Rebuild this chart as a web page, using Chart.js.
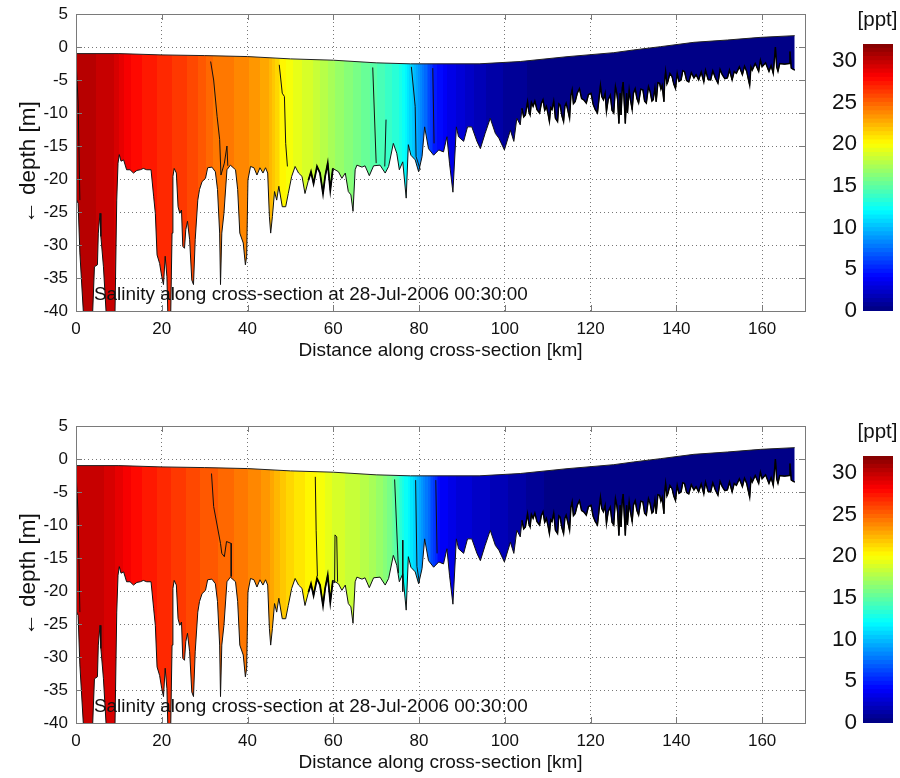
<!DOCTYPE html>
<html>
<head>
<meta charset="utf-8">
<style>
html,body{margin:0;padding:0;background:#fff;overflow:hidden}
canvas{position:absolute;display:block}
</style>
<script src="https://cdn.jsdelivr.net/npm/chart.js@4/dist/chart.umd.min.js"></script>
</head>
<body>
<canvas id="top" width="810" height="380" style="left:0;top:0;width:810px;height:380px"></canvas>
<canvas id="bottom" width="810" height="366" style="left:0;top:412px;width:810px;height:366px"></canvas>
<canvas id="barTop" width="100" height="330" style="left:800px;top:0;width:100px;height:330px"></canvas>
<canvas id="barBottom" width="100" height="330" style="left:800px;top:412px;width:100px;height:330px"></canvas>
<script>
const surfaceKm=[0,10,20,30,40,50,60,70,78,94,103.6,114.5,125.4,130,136.3,144.1,151.9,159.6,167.6];
const surfaceDepth=[-1,-1,-1.2,-1.3,-1.45,-1.8,-2,-2.4,-2.55,-2.55,-2.2,-1.47,-0.86,-0.45,0.05,0.71,1.06,1.46,1.72];
const bedKm=[0,0.5,0.9,1.7,2.5,3.5,3.9,4.3,5,5.2,5.6,5.8,6.4,7,7.5,8.5,9.1,9.5,9.8,10.1,10.5,11.1,11.8,12.6,13.4,14.2,15,15.7,16.5,17.5,18.1,18.5,18.9,19.5,20,20.4,20.8,21.2,21.4,21.6,22,22.1,22.4,22.6,22.9,23.4,23.8,24.2,24.6,24.9,25.3,25.6,26,26.5,27,27.4,27.8,28.4,28.8,29.4,30.2,30.7,31.7,32.5,33,33.5,33.7,34,34.5,35.2,36,37.2,37.7,38.2,39,39.5,39.8,40.1,40.7,41.5,42.2,42.9,43.6,44.2,44.7,45.1,45.4,45.8,46.3,46.8,47.3,48.1,48.9,49.5,50.3,51.1,51.9,52.7,53.4,54.2,54.8,55.4,56.2,56.9,57.6,58.1,58.7,59.3,59.9,61.2,62,62.8,63.5,64.1,64.6,65.1,65.5,66.7,67.4,68.4,69.4,70.9,72.1,72.9,74,74.8,75.4,76.2,77,77.5,78.1,79.1,79.9,80.7,81.3,82.2,83.4,84.6,85.7,86.5,87.1,87.9,88.7,89.2,90.4,91.3,92.3,93.5,94.3,95.4,96.6,97.8,98.6,99.9,101.3,102.1,102.8,103.6,
104,104.4,104.8,105.3,105.6,105.9,106.2,106.6,107,107.5,108.1,108.5,108.9,109.3,109.7,110.1,110.4,110.7,111,111.4,111.8,112.3,112.6,112.9,113.3,113.7,114,114.3,114.7,115.1,115.4,115.7,116,116.4,116.9,117.4,117.9,118.4,119,119.5,120.1,120.6,121.1,121.6,122,122.3,122.6,123,123.4,123.7,124.1,124.6,125,125.4,125.8,126.1,126.3,126.6,126.9,127.1,127.4,127.6,127.9,128.1,128.4,128.6,129,129.3,129.7,130,130.4,130.8,131.2,131.7,132.2,132.6,133,133.5,133.9,134.3,134.6,135,135.3,135.7,136.1,136.4,136.7,137.1,137.3,137.5,137.8,138,138.5,139,139.4,139.8,140.2,140.6,141.1,141.5,141.9,142.4,142.9,143.5,144.1,144.6,145.2,145.8,146.4,146.8,147.4,148,148.5,149.1,149.7,150.2,150.7,151.3,151.9,152.4,153,153.5,154,154.7,155.4,155.9,156.4,157.1,157.4,157.7,158.4,159.2,159.6,160,160.8,161.6,162.1,162.6,163.1,163.4,163.7,164.1,165.2,166.3,166.5,166.8,167.6];
const bedDepth=[-23,-23.7,-31.2,-40,-43,-43,-40,-33.3,-33,-28.2,-25.2,-28.7,-33.3,-40,-43,-43,-40,-23.2,-17.6,-16.3,-17.3,-17.1,-18.6,-18.6,-19.1,-18.7,-18.6,-18.4,-18.6,-18.6,-22.6,-25.2,-31.5,-32.8,-34.8,-36,-31.7,-34.8,-40,-43,-43,-40,-28.2,-19.6,-18.4,-19.1,-24.2,-25.2,-24.7,-30.2,-30.5,-27.7,-26.4,-29.2,-35.3,-36,-29.2,-23.2,-21.6,-20.4,-19.9,-18.3,-18.2,-18.9,-21.6,-28.2,-36,-28.2,-25.2,-18.6,-17.9,-18.6,-21.6,-28.2,-29.7,-33,-31.7,-20.1,-18.1,-18.3,-19.4,-18.3,-19.1,-18.3,-19.1,-25.7,-28.2,-25.7,-21.9,-23.2,-21.1,-24.2,-24.2,-22.2,-19.6,-18.1,-19.1,-19.6,-22.2,-20.2,-18.9,-20.7,-18.1,-19.1,-22.2,-19.6,-17.6,-21.7,-18.4,-18.9,-19.9,-19.1,-21.9,-22.4,-24.9,-18.6,-17.9,-18.2,-18,-19.5,-18,-17.9,-19.1,-18.1,-14.6,-16.1,-18.6,-17.4,-22.9,-14.8,-16.4,-17.1,-18.9,-16.6,-12.1,-15.4,-16.4,-15.6,-15.9,-13.6,-17.6,-22,-12.1,-13.6,-14.3,-12.1,-12.1,-14.3,-15.4,-13.1,-10.8,-13.1,-13.8,-15.6,-12.6,-14.3,-10.8,-11.8,
-9.3,-10.6,-10.3,-8.3,-9.8,-10.3,-8.4,-9,-8.2,-9.5,-10,-8.6,-8,-9.6,-9,-10.2,-11.3,-9.2,-9.5,-8.2,-10.8,-11.3,-8.6,-8.8,-10.4,-11.3,-9,-8.5,-9.6,-10.8,-7.4,-6.5,-8.6,-8.3,-7,-6.3,-7.8,-8,-8.5,-7.2,-7,-8.7,-9.5,-10,-7.6,-5.8,-7.5,-8,-7,-9.8,-8,-7.3,-9.6,-10,-6,-7,-8,-11.6,-7,-10.3,-6.2,-5.3,-9,-11.6,-7,-10,-6.5,-8,-9.5,-7,-6.3,-7.8,-8.5,-6.4,-6.5,-8.2,-8.5,-6,-6.8,-8.2,-8,-6.2,-8.3,-5.4,-5.5,-6.4,-5.8,-8.3,-5,-3.7,-5.6,-5.3,-4,-4.5,-5.6,-6.3,-4,-5.2,-5,-3.6,-3.7,-5.1,-5.3,-3.9,-4.7,-4.2,-5,-3.8,-5.3,-3.5,-4.9,-5,-3.6,-4.7,-5.5,-3.4,-4.2,-4.8,-4.7,-3.5,-5,-3.7,-4,-3,-4.2,-2.9,-3.7,-5.8,-3,-3.5,-2.5,-3.7,-2,-3,-2.4,-3.7,-2.8,-4,0,-3,-3.7,-2.5,-2.6,-2.5,-0.7,-3.2,-3.5];
const salinityKm=[0,3,8,10,12,13.4,21.2,27.4,32,36.8,41.5,44.6,46.9,47.6,51.5,55,59,67,74.9,76.8,78.7,81,83.4,86.5,94.3,102,107,168];
const salinityTop=[30.2,30.1,29.8,29,28.2,27.8,26.7,25.8,24.5,24,23.3,22.7,21.3,20.5,19.2,18.6,17.4,15.4,13.2,12,10,7.8,4.9,3.5,1.65,0.7,0.4,0.2];
const salinityKmBottom=[0,5,8,10,13.4,21,29,36.8,44.6,47.6,50.8,56.2,60,67,71,74,76.4,77.5,80.3,82.6,85,88.8,100,110,168];
const salinityBottom=[30,29.8,29.2,28.8,27.8,26.7,25.5,24.5,23.3,21.9,21,20,18.9,17.9,16.7,15.4,12.5,12,9.3,6.8,4,2.9,1.6,0.4,0.2];
const contoursTop=[
 [[0,-1.9],[0.5,-8.5],[0.9,-23.2]],
 [[31.4,-2.2],[32.1,-5],[32.9,-10.5],[33.5,-14],[33.8,-19.4],[34.6,-17.6],[35.2,-15],[35.4,-18]],
 [[47.4,-2.7],[48.1,-7],[48.6,-7.5],[48.9,-14.6],[49.3,-18.1]],
 [[69.2,-3.1],[70,-17.6]],
 [[72.3,-11],[72,-18.1]],
 [[78.2,-3],[79.1,-9],[79.3,-16.6],[80.3,-18.6]],
 [[83.2,-3.2],[83.5,-14.6]]
];
const contoursBottom=[
 [[0,-1.9],[0.5,-8.5],[0.9,-23.2]],
 [[31.6,-2.2],[32.1,-7.2],[32.9,-10],[33.7,-12.8],[34,-14.3],[34.6,-14.8],[35.1,-12.5],[36.2,-12.8],[36.2,-17.8]],
 [[55.8,-2.7],[56,-10.8],[56.3,-17.8]],
 [[60.3,-18.8],[60.4,-11.5],[60.8,-11.8],[61,-18.6]],
 [[74.3,-3.1],[75,-13.8],[75.2,-17.3]],
 [[76.2,-12.3],[76.2,-20.1]],
 [[79.2,-3.2],[79.5,-16.3],[80.1,-18.8]],
 [[83.9,-3.2],[84.2,-14.3]]
];
const xTickValues=[0,20,40,60,80,100,120,140,160];
const yTickValues=[-40,-35,-30,-25,-20,-15,-10,-5,0,5];
const colorTicks=[0,5,10,15,20,25,30];
const SAL_MAX=32, LEVELS=64;
const noteText='Salinity along cross-section at 28-Jul-2006 00:30:00';
const xTitle='Distance along cross-section [km]';
const yTitle='\u2190 depth [m]';
const unitText='[ppt]';
const FONT='"Liberation Sans", Arial, sans-serif';

function clamp(v){return Math.max(0,Math.min(1,v));}
function jet(s){
  const lvl=Math.min(LEVELS-1,Math.max(0,Math.floor(s/SAL_MAX*LEVELS)));
  const t=(lvl+0.5)/LEVELS;
  const c=o=>Math.round(255*clamp(1.5-Math.abs(4*t-o)));
  return `rgb(${c(3)},${c(2)},${c(1)})`;
}
function salAt(kms,vals,k){
  for(let i=1;i<kms.length;i++){
    if(k<=kms[i]){const f=(k-kms[i-1])/(kms[i]-kms[i-1]);return vals[i-1]+f*(vals[i]-vals[i-1]);}
  }
  return vals[vals.length-1];
}
function fillGradient(kms,vals){
  return function(context){
    const chart=context.chart;
    if(!chart.chartArea) return 'rgba(0,0,0,0)';
    const xs=chart.scales.x;
    const x0=xs.getPixelForValue(0),x1=xs.getPixelForValue(170);
    const g=chart.ctx.createLinearGradient(x0,0,x1,0);
    const N=680;
    for(let i=0;i<N;i++){
      const col=jet(salAt(kms,vals,(i+0.5)*170/N));
      g.addColorStop(i/N,col);g.addColorStop((i+1)/N,col);
    }
    return g;
  };
}
const framePlugin={
  id:'frame',
  afterDraw(chart){
    const {ctx,chartArea:a,scales:{x,y}}=chart;
    ctx.save();
    ctx.strokeStyle='#7a7a7a';ctx.lineWidth=1;
    ctx.strokeRect(a.left+0.5,a.top+0.5,a.width,a.height);
    ctx.beginPath();
    x.ticks.forEach(t=>{const p=Math.round(x.getPixelForValue(t.value))+0.5;
      ctx.moveTo(p,a.bottom);ctx.lineTo(p,a.bottom-6);ctx.moveTo(p,a.top);ctx.lineTo(p,a.top+6);});
    y.ticks.forEach(t=>{const p=Math.round(y.getPixelForValue(t.value))+0.5;
      ctx.moveTo(a.left,p);ctx.lineTo(a.left+6,p);ctx.moveTo(a.right,p);ctx.lineTo(a.right-6,p);});
    ctx.stroke();
    ctx.fillStyle='#111';ctx.font='18.9px '+FONT;ctx.textBaseline='middle';ctx.textAlign='left';
    ctx.fillText(noteText,x.getPixelForValue(4.2),y.getPixelForValue(-37.6));
    ctx.restore();
  }
};
const unitPlugin={
  id:'unit',
  afterDraw(chart){
    const {ctx,chartArea:a}=chart;
    ctx.save();
    ctx.fillStyle='#111';ctx.font='20.5px '+FONT;ctx.textAlign='center';ctx.textBaseline='middle';
    ctx.fillText(unitText,(a.left+a.right)/2-0.5,a.top-24);
    ctx.restore();
  }
};
function pts(xs,ys){return xs.map((v,i)=>({x:v,y:ys[i]}));}
function section(id,kms,vals,contours,h){
  const bed=pts(bedKm,bedDepth);
  const datasets=[
    {order:2,data:pts(surfaceKm,surfaceDepth),borderColor:'#222',borderWidth:1,pointRadius:0,fill:false,tension:0},
    {order:3,data:bed,borderColor:'#111',borderWidth:1,pointRadius:0,fill:'-1',tension:0,backgroundColor:fillGradient(kms,vals)},
    {order:1,data:bed.filter(p=>p.x>=54&&p.x<=59.9),borderColor:'#000',borderWidth:1.8,pointRadius:0,fill:false,tension:0},
    {order:1,data:bed.filter(p=>p.x>=104),borderColor:'#000',borderWidth:1.4,pointRadius:0,fill:false,tension:0}
  ];
  contours.forEach(c=>datasets.push({order:1,data:c.map(p=>({x:p[0],y:p[1]})),borderColor:'#111',borderWidth:1,pointRadius:0,fill:false,tension:0}));
  new Chart(document.getElementById(id),{
    type:'line',
    data:{datasets},
    options:{
      responsive:false,animation:false,
      layout:{padding:{top:14,right:5,left:0,bottom:0}},
      plugins:{legend:{display:false},tooltip:{enabled:false}},
      scales:{
        x:{type:'linear',min:0,max:170,
          afterBuildTicks(s){s.ticks=xTickValues.map(v=>({value:v}));},
          afterFit(s){s.height=h-311;s.paddingLeft=0;s.paddingRight=0;},
          border:{display:false,dash:[1,3]},
          grid:{color:'#777',lineWidth:1,drawTicks:false},
          ticks:{padding:8,maxRotation:0,color:'#111',font:{family:FONT,size:17}},
          title:{display:true,text:xTitle,color:'#111',font:{family:FONT,size:19},padding:{top:0,bottom:h-362}}
        },
        y:{type:'linear',min:-40,max:5,
          afterBuildTicks(s){s.ticks=yTickValues.map(v=>({value:v}));},
          afterFit(s){s.width=76;s.paddingTop=0;s.paddingBottom=0;},
          border:{display:false,dash:[1,3]},
          grid:{color:'#777',lineWidth:1,drawTicks:false},
          ticks:{padding:8,color:'#111',font:{family:FONT,size:17}},
          title:{display:true,text:yTitle,color:'#111',font:{family:FONT,size:22.5},padding:{top:15,bottom:0}}
        }
      }
    },
    plugins:[framePlugin]
  });
}
function colorbar(id){
  const datasets=[];
  for(let i=0;i<LEVELS;i++){
    const lo=i*SAL_MAX/LEVELS,hi=(i+1)*SAL_MAX/LEVELS;
    datasets.push({data:[[lo,hi+0.02]],backgroundColor:jet((lo+hi)/2),borderWidth:0,grouped:false,barPercentage:1,categoryPercentage:1,borderSkipped:false});
  }
  new Chart(document.getElementById(id),{
    type:'bar',
    data:{labels:['salinity'],datasets},
    options:{
      responsive:false,animation:false,
      layout:{padding:{right:7,left:0,top:44,bottom:19}},
      plugins:{legend:{display:false},tooltip:{enabled:false}},
      scales:{
        x:{display:false},
        y:{type:'linear',min:0,max:SAL_MAX,
          afterFit(s){s.width=63;s.paddingTop=0;s.paddingBottom=0;},
          afterBuildTicks(s){s.ticks=colorTicks.map(v=>({value:v}));},
          border:{display:false},
          grid:{display:false,drawTicks:false},
          ticks:{padding:6,color:'#111',font:{family:FONT,size:22.5}}
        }
      }
    },
    plugins:[unitPlugin]
  });
}
section('top',salinityKm,salinityTop,contoursTop,380);
section('bottom',salinityKmBottom,salinityBottom,contoursBottom,366);
colorbar('barTop');
colorbar('barBottom');
</script>
</body>
</html>
